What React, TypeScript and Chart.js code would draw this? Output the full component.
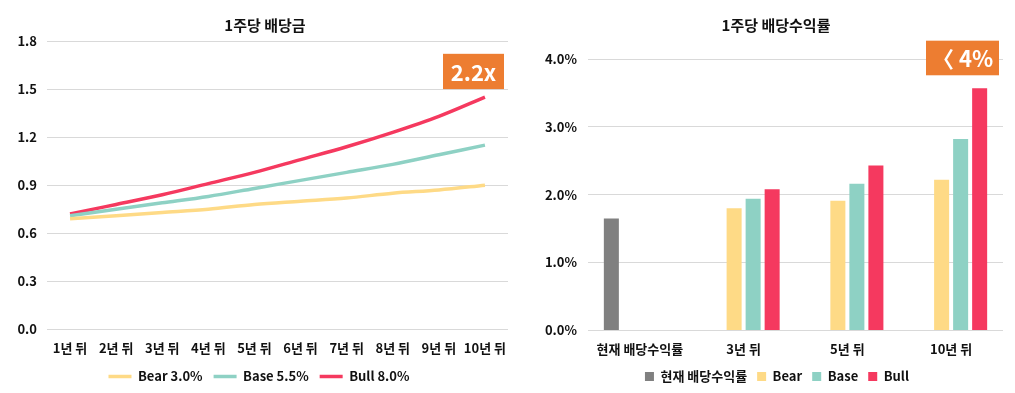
import React, { useEffect, useRef } from "react";
import { Chart, registerables } from "chart.js";

Chart.register(...registerables);

const yearLabels = ["1년 뒤", "2년 뒤", "3년 뒤", "4년 뒤", "5년 뒤", "6년 뒤", "7년 뒤", "8년 뒤", "9년 뒤", "10년 뒤"];
const bearDividend = [0.69, 0.71, 0.73, 0.75, 0.78, 0.8, 0.82, 0.85, 0.87, 0.9];
const baseDividend = [0.71, 0.75, 0.79, 0.83, 0.88, 0.93, 0.98, 1.03, 1.09, 1.15];
const bullDividend = [0.72, 0.78, 0.84, 0.91, 0.98, 1.06, 1.14, 1.23, 1.33, 1.45];
const lineSeriesNames = ["Bear 3.0%", "Base 5.5%", "Bull 8.0%"];

const yieldCategories = ["현재 배당수익률", "3년 뒤", "5년 뒤", "10년 뒤"];
const currentYield = [1.65, null, null, null];
const bearYield = [null, 1.8, 1.91, 2.22];
const baseYield = [null, 1.94, 2.16, 2.82];
const bullYield = [null, 2.08, 2.43, 3.57];
const barSeriesNames = ["현재 배당수익률", "Bear", "Base", "Bull"];

const FONT = "'Noto Sans CJK KR', 'Noto Sans', sans-serif";
const YELLOW = "#FEDA86";
const TEAL = "#8ED1C4";
const PINK = "#F5395F";
const GRAY = "#808080";
const ORANGE = "#ED7D31";
const GRID = "#D9D9D9";
const TEXT = "#111111";
const TICK_FONT = { family: FONT, size: 13, weight: "bold" };

function badgePlugin(text: string, topVal: number, botVal: number, width: number, rightInset: number) {
  return {
    id: "badge",
    afterDatasetsDraw(chart: any) {
      const { ctx, chartArea, scales } = chart;
      const top = scales.y.getPixelForValue(topVal);
      const bot = scales.y.getPixelForValue(botVal);
      const right = chartArea.right - rightInset;
      const left = right - width;
      ctx.save();
      ctx.fillStyle = ORANGE;
      ctx.fillRect(left, top, width, bot - top);
      ctx.fillStyle = "#ffffff";
      ctx.font = `bold 22px ${FONT}`;
      ctx.textAlign = "center";
      ctx.textBaseline = "middle";
      ctx.fillText(text, (left + right) / 2, (top + bot) / 2 + 1);
      ctx.restore();
    },
  };
}

// nudges the title and legend blocks sideways after layout
function shiftPlugin(titleDx: number, legendDx: number) {
  return {
    id: "shiftBlocks",
    afterLayout(chart: any) {
      if (chart.titleBlock) {
        chart.titleBlock.left += titleDx;
        chart.titleBlock.right += titleDx;
      }
      if (chart.legend) {
        chart.legend.left += legendDx;
        chart.legend.right += legendDx;
      }
    },
  };
}

function LineChart() {
  const ref = useRef<HTMLCanvasElement>(null);
  useEffect(() => {
    const colors = [YELLOW, TEAL, PINK];
    const series = [bearDividend, baseDividend, bullDividend];
    const chart = new Chart(ref.current!, {
      type: "line",
      data: {
        labels: yearLabels,
        datasets: series.map((d, i) => ({
          label: lineSeriesNames[i],
          data: d,
          borderColor: colors[i],
          backgroundColor: colors[i],
          borderWidth: 3.5,
          pointRadius: 0,
          pointStyle: "line",
          cubicInterpolationMode: "monotone",
        })),
      },
      options: {
        animation: false,
        responsive: false,
        devicePixelRatio: 1,
        layout: { padding: { left: 0, right: 16, top: 0, bottom: 0 } },
        plugins: {
          title: {
            display: true,
            text: "1주당 배당금",
            color: TEXT,
            font: { family: FONT, size: 15, weight: "bold" },
            padding: { top: 16, bottom: 7 },
          },
          legend: {
            position: "bottom",
            labels: {
              usePointStyle: true,
              pointStyleWidth: 23,
              color: TEXT,
              font: TICK_FONT,
              padding: 11,
            },
          },
          tooltip: { enabled: false },
        },
        scales: {
          x: {
            offset: true,
            grid: { display: false },
            border: { display: false },
            ticks: { color: TEXT, font: TICK_FONT, padding: 3, maxRotation: 0, autoSkip: false },
          },
          y: {
            min: 0,
            max: 1.8,
            afterFit: (s: any) => { s.width = 47; },
            grid: { color: GRID, drawTicks: false },
            border: { display: false },
            ticks: {
              stepSize: 0.3,
              color: TEXT,
              padding: 10,
              font: TICK_FONT,
              callback: (v: any) => Number(v).toFixed(1),
            },
          },
        },
      },
      plugins: [badgePlugin("2.2x", 1.72, 1.5, 61, 4), shiftPlugin(11, 5)],
    } as any);
    return () => chart.destroy();
  }, []);
  return <canvas ref={ref} width={524} height={393} style={{ position: "absolute", left: 0, top: 0, width: 524, height: 393 }} />;
}

function BarChart() {
  const ref = useRef<HTMLCanvasElement>(null);
  useEffect(() => {
    const colors = [GRAY, YELLOW, TEAL, PINK];
    const series = [currentYield, bearYield, baseYield, bullYield];
    const chart = new Chart(ref.current!, {
      type: "bar",
      data: {
        labels: yieldCategories,
        datasets: series.map((d, i) => ({
          label: barSeriesNames[i],
          data: d,
          backgroundColor: colors[i],
          borderWidth: 0,
          barPercentage: 0.79,
          categoryPercentage: 0.733,
        })),
      },
      options: {
        animation: false,
        responsive: false,
        devicePixelRatio: 1,
        layout: { padding: { left: 0, right: 12, top: 0, bottom: 0 } },
        plugins: {
          title: {
            display: true,
            text: "1주당 배당수익률",
            color: TEXT,
            font: { family: FONT, size: 15, weight: "bold" },
            padding: { top: 16, bottom: 25 },
          },
          legend: {
            position: "bottom",
            labels: {
              boxWidth: 9,
              boxHeight: 9,
              color: TEXT,
              font: TICK_FONT,
              padding: 10,
            },
          },
          tooltip: { enabled: false },
        },
        scales: {
          x: {
            grid: { display: false },
            border: { display: false },
            ticks: { color: TEXT, font: TICK_FONT, padding: 3, maxRotation: 0, autoSkip: false },
          },
          y: {
            min: 0,
            max: 4,
            afterFit: (s: any) => { s.width = 51; },
            grid: { color: GRID, drawTicks: false },
            border: { display: false },
            ticks: {
              stepSize: 1,
              color: TEXT,
              padding: 11,
              font: TICK_FONT,
              callback: (v: any) => Number(v).toFixed(1) + "%",
            },
          },
        },
      },
      plugins: [badgePlugin("〈 4%", 4.27, 3.76, 73, 4), shiftPlugin(6, 7)],
    } as any);
    return () => chart.destroy();
  }, []);
  return <canvas ref={ref} width={478} height={393} style={{ position: "absolute", left: 537, top: 0, width: 478, height: 393 }} />;
}

export default function App() {
  return (
    <div style={{ position: "fixed", left: 0, top: 0, width: 1015, height: 393, background: "#fff" }}>
      <LineChart />
      <BarChart />
    </div>
  );
}
